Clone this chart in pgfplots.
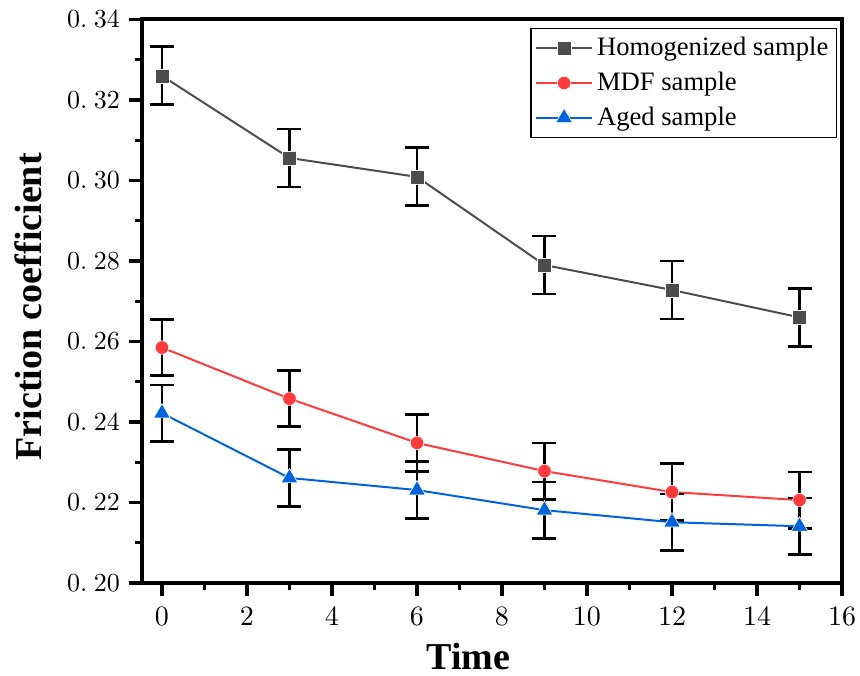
\documentclass[border=0pt]{standalone}
\usepackage{fontspec}
\setmainfont{Liberation Serif}
\usepackage{graphicx}
\usepackage{pgfplots}
\pgfplotsset{compat=1.18}
\usepackage{pgfplotstable}
\definecolor{cgray}{HTML}{4D4D4D}
\definecolor{cred}{HTML}{FF3B3B}
\definecolor{cblue}{HTML}{0063DD}
\pgfplotstableread{
x y e
0 0.3260 0.0072
3 0.3056 0.0072
6 0.3009 0.0072
9 0.2790 0.0072
12 0.2728 0.0072
15 0.2660 0.0072
}\homog
\pgfplotstableread{
x y e
0 0.2585 0.0070
3 0.2458 0.0070
6 0.2348 0.0070
9 0.2278 0.0070
12 0.2226 0.0070
15 0.2206 0.0070
}\mdf
\pgfplotstableread{
x y e
0 0.2422 0.0070
3 0.2261 0.0070
6 0.2231 0.0070
9 0.2181 0.0070
12 0.2151 0.0070
15 0.2141 0.0070
}\aged
\begin{document}
\begin{tikzpicture}
\begin{axis}[
  scale only axis,
  width=350pt, height=281.75pt,
  xmin=-0.47, xmax=16,
  ymin=0.20, ymax=0.34,
  xtick={0,2,...,16},
  xticklabel={\scalebox{1.4}{\pgfmathprintnumber[int detect]{\tick}}},
  minor xtick={1,3,...,15},
  ytick={0.20,0.22,0.24,0.26,0.28,0.30,0.32,0.34},
  yticklabel={\scalebox{1.3}{\pgfmathparse{int(round(\tick*100))}$0.\ \pgfmathresult$}},
  minor ytick={0.21,0.23,...,0.33},
  tick align=outside,
  xtick pos=lower, ytick pos=left,
  major tick length=6.5pt,
  minor tick length=3.5pt,
  every tick/.style={black, line width=1.6pt},
  axis line style={line width=2pt},
  xticklabel style={yshift=-2pt},
  yticklabel style={xshift=-1pt},
  xlabel={\textbf{Time}},
  ylabel={\textbf{Friction coefficient}},
  xlabel style={font=\fontsize{19}{22}\selectfont, at={(axis description cs:0.466,0)}, anchor=base, yshift=-43pt},
  ylabel style={font=\fontsize{19}{22}\selectfont, at={(axis description cs:0,0.49)}, anchor=base, yshift=50pt},
  legend style={at={(axis description cs:1,1)}, anchor=north east, xshift=-2.5pt, yshift=-4.25pt,
    draw=black, line width=0.7pt, font=\fontsize{13.3}{15}\selectfont,
    inner xsep=2pt, inner ysep=1pt, row sep=0pt,
    nodes={inner ysep=3.35pt}},
  legend cell align=left,
  legend image code/.code={\draw[mark repeat=2,mark phase=2] plot coordinates {(0pt,0pt)(14pt,0pt)(28pt,0pt)};},
  error bars/y dir=both, error bars/y explicit,
  error bars/error bar style={black, line width=1.4pt, solid},
  error bars/error mark options={rotate=90, mark size=6pt, line width=1.4pt, black},
]
\addplot[cgray, line width=1pt, mark=square*, mark size=3.5pt, mark options={fill=cgray, draw=white, line width=0.3pt}]
  table[x=x, y=y, y error=e] {\homog};
\addlegendentry{Homogenized sample}
\addplot[cred, line width=1pt, mark=*, mark size=3.4pt, mark options={fill=cred, draw=white, line width=0.3pt}]
  table[x=x, y=y, y error=e] {\mdf};
\addlegendentry{MDF sample}
\addplot[cblue, line width=1pt, mark=triangle*, mark size=4.8pt, mark options={fill=cblue, draw=white, line width=0.3pt}]
  table[x=x, y=y, y error=e] {\aged};
\addlegendentry{Aged sample}
\end{axis}
\pgfresetboundingbox
\path (current axis.south west) ++(-71pt,-46pt) coordinate (bl);
\path (current axis.north east) ++(9pt,9.75pt) coordinate (tr);
\path (bl) rectangle (tr);
\end{tikzpicture}
\end{document}
